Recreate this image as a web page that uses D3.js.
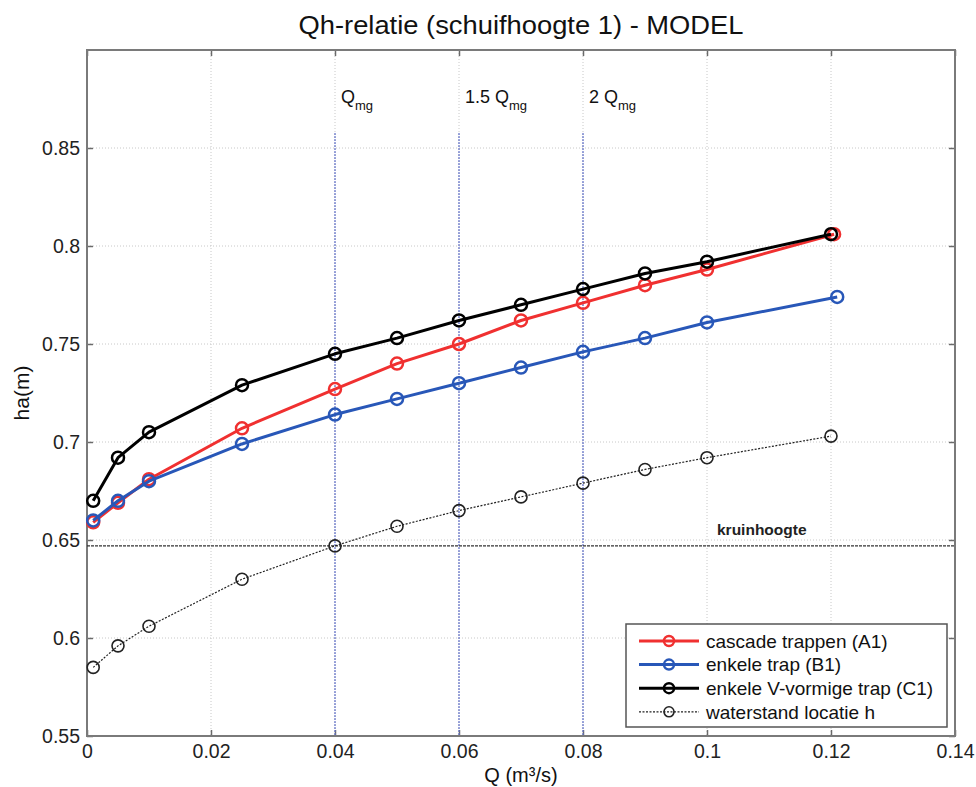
<!DOCTYPE html>
<html>
<head>
<meta charset="utf-8">
<script src="https://cdn.jsdelivr.net/npm/d3@7"></script>
<style>
  body { margin: 0; background: #fff; }
  svg { display: block; font-family: "Liberation Sans", Arial, sans-serif; }
</style>
</head>
<body>
<svg id="chart" width="976" height="787"></svg>
<script>
// Discharge Q (m3/s) at each measured point, per series
const qCascade     = [0.001, 0.005, 0.01, 0.025, 0.04, 0.05, 0.06, 0.07, 0.08, 0.09, 0.1, 0.1205];
const qEnkele      = [0.001, 0.005, 0.01, 0.025, 0.04, 0.05, 0.06, 0.07, 0.08, 0.09, 0.1, 0.121];
const qVvormig     = [0.001, 0.005, 0.01, 0.025, 0.04, 0.05, 0.06, 0.07, 0.08, 0.09, 0.1, 0.12];
const qWaterstand  = [0.001, 0.005, 0.01, 0.025, 0.04, 0.05, 0.06, 0.07, 0.08, 0.09, 0.1, 0.12];

// Upstream water level ha (m)
const haCascade    = [0.659, 0.669, 0.681, 0.707, 0.727, 0.740, 0.750, 0.762, 0.771, 0.780, 0.788, 0.806];
const haEnkele     = [0.660, 0.670, 0.680, 0.699, 0.714, 0.722, 0.730, 0.738, 0.746, 0.753, 0.761, 0.774];
const haVvormig    = [0.670, 0.692, 0.705, 0.729, 0.745, 0.753, 0.762, 0.770, 0.778, 0.786, 0.792, 0.806];
const haWaterstand = [0.585, 0.596, 0.606, 0.630, 0.647, 0.657, 0.665, 0.672, 0.679, 0.686, 0.692, 0.703];

// Crest level and reference discharges
const kruinhoogte = 0.647;
const qRefValues  = [0.04, 0.06, 0.08];
const qRefPrefix  = ["", "1.5 ", "2 "];

// Axis ticks
const xTicks = [0, 0.02, 0.04, 0.06, 0.08, 0.1, 0.12, 0.14];
const yTicks = [0.55, 0.6, 0.65, 0.7, 0.75, 0.8, 0.85];

const seriesNames = ["cascade trappen (A1)", "enkele trap (B1)", "enkele V-vormige trap (C1)", "waterstand locatie h"];

const svg = d3.select("#chart");
const plotLeft = 87, plotRight = 955, plotTop = 50, plotBottom = 736;

const x = d3.scaleLinear().domain([0, 0.14]).range([plotLeft, plotRight]);
const y = d3.scaleLinear().domain([0.55, 0.55 + (plotBottom - plotTop) / 1960]).range([plotBottom, plotTop]);

// grid
const grid = svg.append("g");
grid.selectAll("line.vx").data(xTicks.slice(1, -1)).join("line")
  .attr("x1", d => x(d)).attr("x2", d => x(d)).attr("y1", plotTop).attr("y2", plotBottom)
  .attr("stroke", "#c8c8c8").attr("stroke-width", 1).attr("stroke-dasharray", "1,2");
grid.selectAll("line.hy").data(yTicks.slice(1)).join("line")
  .attr("x1", plotLeft).attr("x2", plotRight).attr("y1", d => y(d)).attr("y2", d => y(d))
  .attr("stroke", "#c8c8c8").attr("stroke-width", 1).attr("stroke-dasharray", "1,2");

// axes with labels
const fmt = d => String(+d.toFixed(3));
const xAxis = svg.append("g").attr("transform", `translate(0,${plotBottom})`)
  .call(d3.axisBottom(x).tickValues(xTicks).tickFormat(fmt).tickSizeInner(-6).tickSizeOuter(0).tickPadding(8));
const yAxis = svg.append("g").attr("transform", `translate(${plotLeft},0)`)
  .call(d3.axisLeft(y).tickValues(yTicks).tickFormat(fmt).tickSizeInner(-6).tickSizeOuter(0).tickPadding(7));
const xTop = svg.append("g").attr("transform", `translate(0,${plotTop})`)
  .call(d3.axisTop(x).tickValues(xTicks).tickFormat("").tickSizeInner(-6).tickSizeOuter(0));
const yRight = svg.append("g").attr("transform", `translate(${plotRight},0)`)
  .call(d3.axisRight(y).tickValues(yTicks).tickFormat("").tickSizeInner(-6).tickSizeOuter(0));
[xAxis, yAxis, xTop, yRight].forEach(g => {
  g.select(".domain").remove();
  g.selectAll(".tick line").attr("stroke", "#6a6a6a").attr("stroke-width", 1.5);
  g.selectAll(".tick text").attr("fill", "#222").attr("font-size", 19.5)
    .attr("font-family", "'Liberation Sans', Arial, sans-serif");
});

// frame
svg.append("rect").attr("x", plotLeft).attr("y", plotTop)
  .attr("width", plotRight - plotLeft).attr("height", plotBottom - plotTop)
  .attr("fill", "none").attr("stroke", "#7a7a7a").attr("stroke-width", 2);

// reference discharge lines
const refs = svg.append("g");
refs.selectAll("line").data(qRefValues).join("line")
  .attr("x1", d => x(d)).attr("x2", d => x(d)).attr("y1", 133).attr("y2", plotBottom)
  .attr("stroke", "#6070c8").attr("stroke-width", 1.2).attr("stroke-dasharray", "2,1");
const refText = refs.selectAll("text").data(qRefValues).join("text")
  .attr("x", d => x(d) + 6).attr("y", 103).attr("font-size", 18).attr("fill", "#111");
refText.append("tspan").text((d, i) => qRefPrefix[i] + "Q");
refText.append("tspan").attr("dy", 7).attr("font-size", 13).text("mg");

// crest level
svg.append("line").attr("x1", plotLeft).attr("x2", plotRight)
  .attr("y1", y(kruinhoogte)).attr("y2", y(kruinhoogte))
  .attr("stroke", "#333").attr("stroke-width", 1.3).attr("stroke-dasharray", "3,1");
svg.append("text").attr("x", 717).attr("y", 535).attr("font-size", 15.5).attr("font-weight", "bold")
  .attr("fill", "#222").text("kruinhoogte");

// series
const series = [
  { q: qWaterstand, ha: haWaterstand, color: "#222", width: 1.2, dash: "2,1.5", mw: 1.6 },
  { q: qCascade, ha: haCascade, color: "#f03030", width: 3, dash: null, mw: 2.5 },
  { q: qEnkele, ha: haEnkele, color: "#2857b8", width: 3, dash: null, mw: 2.5 },
  { q: qVvormig, ha: haVvormig, color: "#000", width: 3, dash: null, mw: 2.5 }
];
const line = d3.line().x(d => x(d[0])).y(d => y(d[1]));
series.forEach(s => {
  const pts = s.q.map((q, i) => [q, s.ha[i]]);
  const g = svg.append("g");
  g.append("path").attr("d", line(pts)).attr("fill", "none")
    .attr("stroke", s.color).attr("stroke-width", s.width)
    .attr("stroke-dasharray", s.dash).attr("stroke-linejoin", "round");
  g.selectAll("circle").data(pts).join("circle")
    .attr("cx", d => x(d[0])).attr("cy", d => y(d[1])).attr("r", 6)
    .attr("fill", "none").attr("stroke", s.color).attr("stroke-width", s.mw);
});

// legend
const legend = svg.append("g");
legend.append("rect").attr("x", 626).attr("y", 624).attr("width", 321).attr("height", 103)
  .attr("fill", "#fff").attr("stroke", "#555").attr("stroke-width", 1.5);
const legendOrder = [1, 2, 3, 0];
legendOrder.forEach((si, i) => {
  const s = series[si];
  const cy = 641 + i * 23.6;
  legend.append("line").attr("x1", 639).attr("x2", 699).attr("y1", cy).attr("y2", cy)
    .attr("stroke", s.color).attr("stroke-width", s.width).attr("stroke-dasharray", s.dash);
  legend.append("circle").attr("cx", 669).attr("cy", cy).attr("r", 5)
    .attr("fill", "none").attr("stroke", s.color).attr("stroke-width", s.mw);
  legend.append("text").attr("x", 706).attr("y", cy).attr("dy", "0.36em")
    .attr("font-size", 19).attr("fill", "#111").text(seriesNames[i]);
});

// titles
svg.append("text").attr("x", (plotLeft + plotRight) / 2).attr("y", 34).attr("text-anchor", "middle")
  .attr("font-size", 26).attr("fill", "#111")
  .attr("textLength", 445).attr("lengthAdjust", "spacingAndGlyphs")
  .text("Qh-relatie (schuifhoogte 1) - MODEL");
svg.append("text").attr("x", (plotLeft + plotRight) / 2).attr("y", 782).attr("text-anchor", "middle")
  .attr("font-size", 20).attr("fill", "#111").text("Q (m³/s)");
svg.append("text").attr("transform", `translate(29,${(plotTop + plotBottom) / 2}) rotate(-90)`)
  .attr("text-anchor", "middle").attr("font-size", 21).attr("fill", "#111").text("ha(m)");
</script>
</body>
</html>
